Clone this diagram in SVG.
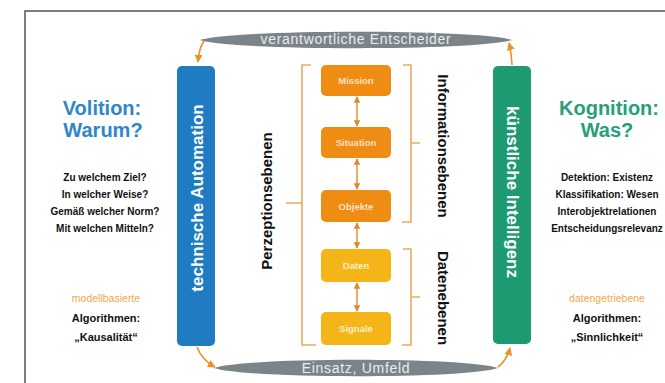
<svg xmlns="http://www.w3.org/2000/svg" width="665" height="383" viewBox="0 0 665 383">
<style>
text{font-family:"Liberation Sans",Arial,sans-serif}
.frame{fill:none;stroke:#555;stroke-width:1.5}
.lens{fill:#7b8489}
.lenst{fill:#e9edef;font-size:14px;letter-spacing:0.7px;text-anchor:middle;dominant-baseline:central}
.conn{fill:none;stroke:#e8932a;stroke-width:1.6}
.dbl{fill:none;stroke:#e0892a;stroke-width:1.4}
.brk{fill:none;stroke:#e9ac5e;stroke-width:1.6}
.ob{fill:#ef8c13}
.yb{fill:#f5b417}
.bt{font-size:9.5px;font-weight:bold;text-anchor:middle;dominant-baseline:central}
.obt{fill:#fce2c2}
.ybt{fill:#fdf1c8}
.vt{font-size:17px;font-weight:bold;fill:#fff;text-anchor:middle;dominant-baseline:central}
.lvl{font-size:15px;font-weight:bold;fill:#111;text-anchor:middle;dominant-baseline:central}
.head{font-size:20px;font-weight:bold;text-anchor:middle}
.q{font-size:10px;font-weight:bold;fill:#111;text-anchor:middle}
.or{font-size:10.5px;fill:#f0a848;text-anchor:middle}
.alg{font-size:11px;font-weight:bold;fill:#111;text-anchor:middle}
</style>
<defs>
<marker id="ah" viewBox="0 0 10 10" refX="9" refY="5" markerWidth="5" markerHeight="5" orient="auto-start-reverse">
<path d="M0,0 L10,5 L0,10 z" fill="#e8932a"/>
</marker>
<marker id="ah2" viewBox="0 0 10 10" refX="9" refY="5" markerWidth="4.5" markerHeight="4.5" orient="auto-start-reverse">
<path d="M0,0 L10,5 L0,10 z" fill="#e0892a"/>
</marker>
</defs>
<rect width="665" height="383" fill="#fff"/>
<path class="frame" d="M665,11 L25,11 L25,383"/>

<g id="top-ellipse">
<path class="lens" d="M200,40 C232,29 480,29 512,40 C480,51 232,51 200,40 Z"/>
<text class="lenst" x="356" y="39">verantwortliche Entscheider</text>
</g>
<g id="bottom-ellipse">
<path class="lens" d="M214,368 C246,357 466,357 498,368 C466,379 246,379 214,368 Z"/>
<text class="lenst" x="356" y="368">Einsatz, Umfeld</text>
</g>

<g id="technische-automation">
<rect x="177" y="66" width="38" height="280" rx="5" fill="#1f7bc2"/>
<text class="vt" transform="translate(197,198) rotate(-90)">technische Automation</text>
</g>
<g id="kuenstliche-intelligenz">
<rect x="493" y="66" width="38" height="278" rx="5" fill="#1d9a72"/>
<text class="vt" transform="translate(512,192) rotate(90)">künstliche Intelligenz</text>
</g>

<g id="mission">
<rect class="ob" x="321" y="65" width="70" height="31" rx="5"/>
<text class="bt obt" x="356" y="80.5">Mission</text>
</g>
<g id="situation">
<rect class="ob" x="321" y="127" width="70" height="31" rx="5"/>
<text class="bt obt" x="356" y="142.5">Situation</text>
</g>
<g id="objekte">
<rect class="ob" x="321" y="190" width="70" height="32" rx="5"/>
<text class="bt obt" x="356" y="206">Objekte</text>
</g>
<g id="daten">
<rect class="yb" x="321" y="249" width="70" height="33" rx="5"/>
<text class="bt ybt" x="356" y="265.5">Daten</text>
</g>
<g id="signale">
<rect class="yb" x="321" y="312" width="70" height="33" rx="5"/>
<text class="bt ybt" x="356" y="328.5">Signale</text>
</g>

<g id="brackets">
<path class="brk" d="M311,65 L302,65 L302,345 L316,345 M302,203 L286,203"/>
<path class="brk" d="M403,65 L411,65 L411,222 L402,222 M411,143 L420,143"/>
<path class="brk" d="M403,249 L411,249 L411,345 L402,345 M411,297 L420,297"/>
</g>

<g id="perzeptionsebenen">
<text class="lvl" transform="translate(266,201) rotate(-90)">Perzeptionsebenen</text>
</g>
<g id="informationsebenen">
<text class="lvl" transform="translate(443,146) rotate(90)">Informationsebenen</text>
</g>
<g id="datenebenen">
<text class="lvl" transform="translate(443,298) rotate(90)">Datenebenen</text>
</g>

<g id="connectors">
<path class="conn" d="M204,41 Q199,48 198,62" marker-end="url(#ah)"/>
<path class="conn" d="M512,65 Q511,50 509,43" marker-end="url(#ah)"/>
<path class="conn" d="M197,347 Q202,360 215,367" marker-end="url(#ah)"/>
<path class="conn" d="M498,367 Q507,360 510,348" marker-end="url(#ah)"/>
<path class="dbl" d="M357,97 L357,126" marker-start="url(#ah2)" marker-end="url(#ah2)"/>
<path class="dbl" d="M357,159 L357,189" marker-start="url(#ah2)" marker-end="url(#ah2)"/>
<path class="dbl" d="M357,223 L357,248" marker-start="url(#ah2)" marker-end="url(#ah2)"/>
<path class="dbl" d="M357,283 L357,311" marker-start="url(#ah2)" marker-end="url(#ah2)"/>
</g>

<g id="volition">
<text class="head" x="102" y="115" fill="#2f86c8">Volition:</text>
<text class="head" x="103" y="137" fill="#2f86c8">Warum?</text>
<text class="q" x="105" y="181">Zu welchem Ziel?</text>
<text class="q" x="105" y="198">In welcher Weise?</text>
<text class="q" x="105" y="215">Gemäß welcher Norm?</text>
<text class="q" x="105" y="232">Mit welchen Mitteln?</text>
<text class="or" x="106" y="302">modellbasierte</text>
<text class="alg" x="106" y="322">Algorithmen:</text>
<text class="alg" x="106" y="341">„Kausalität“</text>
</g>

<g id="kognition">
<text class="head" x="609" y="115" fill="#27a07a">Kognition:</text>
<text class="head" x="607" y="137" fill="#27a07a">Was?</text>
<text class="q" x="607" y="181">Detektion: Existenz</text>
<text class="q" x="607" y="198">Klassifikation: Wesen</text>
<text class="q" x="607" y="215">Interobjektrelationen</text>
<text class="q" x="607" y="232">Entscheidungsrelevanz</text>
<text class="or" x="607" y="302">datengetriebene</text>
<text class="alg" x="607" y="322">Algorithmen:</text>
<text class="alg" x="607" y="341">„Sinnlichkeit“</text>
</g>
</svg>
